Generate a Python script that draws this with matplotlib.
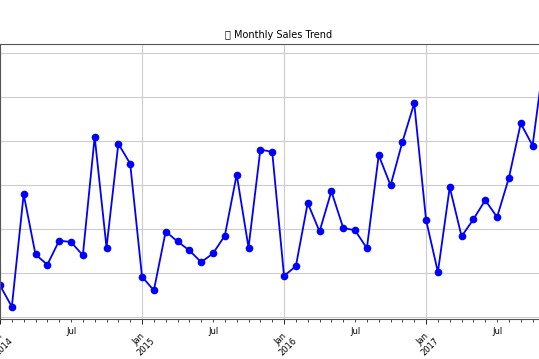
# monthly sales trend, 2014-2017
import matplotlib
matplotlib.use('Agg')
from matplotlib import pyplot as plt
from matplotlib.ticker import FixedLocator, FixedFormatter

years = [2014, 2015, 2016, 2017]
sales_2014 = [14237, 4520, 55691, 28295, 23648, 34595, 33946, 27909, 81777, 31453, 78628, 69546]
sales_2015 = [18174, 11951, 38726, 34195, 30132, 24797, 28765, 36898, 64596, 31405, 75973, 74920]
sales_2016 = [18542, 22979, 51716, 38750, 56988, 40345, 39262, 31115, 73410, 59688, 79412, 96999]
sales_2017 = [43971, 20301, 58872, 36522, 44261, 52982, 45264, 63121, 87867, 77777, 118448, 83829]

sales = sales_2014 + sales_2015 + sales_2016 + sales_2017
months = list(range(len(sales)))

fig = plt.figure(figsize=(5.39, 3.59), dpi=100)
ax = fig.add_axes([0.0, 0.1106, 1.032, 0.768])
ax.plot(months, sales, marker='o', color='blue', linewidth=1.3, markersize=4.5)
ax.set_xlim(0, len(sales) - 1)
ax.set_ylim(-1176, 124144)

# Jan ticks are major (rotated), Jul labels sit on minor ticks
jan_pos = [12 * i for i in range(len(years))]
jan_lab = ['Jan\n%d' % y for y in years]
minor_pos = [m for m in months if m % 12 != 0]
minor_lab = ['Jul' if m % 12 == 6 else '' for m in minor_pos]
ax.xaxis.set_major_locator(FixedLocator(jan_pos))
ax.xaxis.set_major_formatter(FixedFormatter(jan_lab))
ax.xaxis.set_minor_locator(FixedLocator(minor_pos))
ax.xaxis.set_minor_formatter(FixedFormatter(minor_lab))
ax.tick_params(axis='x', which='major', labelsize=6, length=3.5, width=0.6, rotation=45)
ax.tick_params(axis='x', which='minor', labelsize=6, length=2, width=0.5)
ax.tick_params(axis='y', labelsize=6, length=2.5, width=0.6)
ax.set_yticks([0, 20000, 40000, 60000, 80000, 100000, 120000])

for s in ax.spines.values():
    s.set_linewidth(0.8)
    s.set_color('#555555')

ax.grid(True, which='major', color='#cccccc', linewidth=0.8)
ax.set_title('\U0001F4C8 Monthly Sales Trend', fontsize=7, pad=4)
ax.set_xlabel('Order Date', fontsize=6.5)

fig.savefig('out.png', dpi=100)
